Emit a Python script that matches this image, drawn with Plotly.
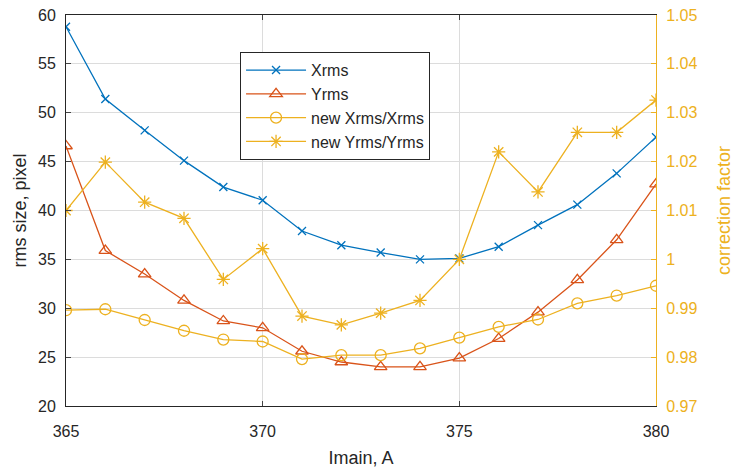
import plotly.graph_objects as go

imain = list(range(365, 381))
xrms = [58.8, 51.4, 48.2, 45.1, 42.4, 41.05, 37.9, 36.45, 35.7, 35.0, 35.1, 36.3, 38.5, 40.6, 43.8, 47.5]
yrms = [46.6, 35.9, 33.5, 30.8, 28.7, 28.0, 25.6, 24.5, 24.0, 24.0, 24.9, 26.9, 29.6, 32.9, 37.0, 42.7]
new_x_ratio = [0.9896, 0.9898, 0.9876, 0.9854, 0.9836, 0.9832, 0.9796, 0.9804, 0.9804, 0.9818,
               0.9840, 0.9862, 0.9877, 0.9910, 0.9926, 0.9946]
new_y_ratio = [1.0100, 1.0199, 1.0117, 1.0084, 0.9959, 1.0022, 0.9884, 0.9866, 0.9890, 0.9916,
               1.0000, 1.0220, 1.0138, 1.0260, 1.0260, 1.0326]

x_ticks = [365, 370, 375, 380]
y_ticks = [20, 25, 30, 35, 40, 45, 50, 55, 60]
y2_ticks = [0.97, 0.98, 0.99, 1.00, 1.01, 1.02, 1.03, 1.04, 1.05]
y2_ticktext = ["0.97", "0.98", "0.99", "1", "1.01", "1.02", "1.03", "1.04", "1.05"]

BLUE = "#0072BD"
RED = "#D95319"
YEL = "#EDB120"
AX = "#262626"
FONT = "Liberation Sans, Arial, sans-serif"

fig = go.Figure()
fig.add_trace(go.Scatter(x=imain, y=xrms, name="Xrms", mode="lines+markers",
                         line=dict(color=BLUE, width=1.3),
                         marker=dict(symbol="x-thin-open", size=8, color=BLUE,
                                     line=dict(color=BLUE, width=1.3))))
fig.add_trace(go.Scatter(x=imain, y=yrms, name="Yrms", mode="lines+markers",
                         line=dict(color=RED, width=1.3),
                         marker=dict(symbol="triangle-up-open", size=11, color=RED,
                                     line=dict(color=RED, width=1.3))))
fig.add_trace(go.Scatter(x=imain, y=new_x_ratio, name="new Xrms/Xrms", mode="lines+markers",
                         yaxis="y2", line=dict(color=YEL, width=1.3),
                         marker=dict(symbol="circle-open", size=11, color=YEL,
                                     line=dict(color=YEL, width=1.3))))
fig.add_trace(go.Scatter(x=imain, y=new_y_ratio, name="new Yrms/Yrms", mode="lines+markers",
                         yaxis="y2", line=dict(color=YEL, width=1.3),
                         marker=dict(symbol="asterisk-open", size=11, color=YEL,
                                     line=dict(color=YEL, width=1.3))))

fig.update_layout(
    width=736, height=471,
    margin=dict(l=66, r=80, t=15, b=65),
    paper_bgcolor="white", plot_bgcolor="white",
    font=dict(family=FONT, size=16, color=AX),
    showlegend=True,
    legend=dict(x=0.295, y=0.905, xanchor="left", yanchor="top",
                bgcolor="white", bordercolor=AX, borderwidth=1,
                font=dict(family=FONT, size=16, color=AX),
                tracegroupgap=0, itemwidth=60),
    xaxis=dict(range=[365, 380], tickvals=x_ticks, ticks="inside", ticklen=5,
               showline=True, linecolor=AX, linewidth=1, mirror="ticks", automargin=False,
               showgrid=True, gridcolor="#DCDCDC", gridwidth=1, zeroline=False,
               tickfont=dict(size=16, color=AX), ticklabelstandoff=11,
               title=dict(text="Imain, A", font=dict(size=18, color=AX), standoff=12)),
    yaxis=dict(range=[20, 60], tickvals=y_ticks, ticks="inside", ticklen=5,
               showline=True, linecolor=AX, linewidth=1, automargin=False,
               showgrid=True, gridcolor="#DCDCDC", gridwidth=1, zeroline=False,
               tickfont=dict(size=16, color=AX), ticklabelstandoff=6,
               title=dict(text="rms size, pixel", font=dict(size=18, color=AX), standoff=6)),
    yaxis2=dict(range=[0.97, 1.05], tickvals=y2_ticks, ticktext=y2_ticktext,
                overlaying="y", side="right", ticks="inside", ticklen=5, tickcolor=YEL,
                showline=True, linecolor=YEL, linewidth=1, showgrid=False, zeroline=False,
                automargin=False,
                tickfont=dict(size=16, color=YEL), ticklabelstandoff=6,
                title=dict(text="correction factor", font=dict(size=18, color=YEL), standoff=20)),
)

fig.write_html("out.html")
